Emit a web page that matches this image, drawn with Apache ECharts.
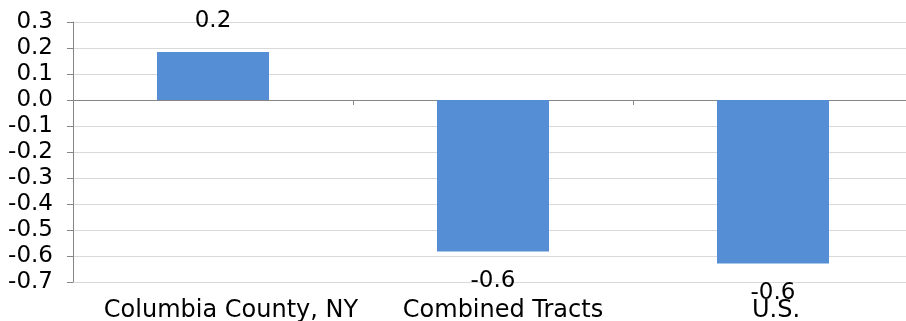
<!DOCTYPE html>
<html>
<head>
<meta charset="utf-8">
<script src="https://cdn.jsdelivr.net/npm/echarts@6/dist/echarts.min.js"></script>
<style>
  html, body { margin: 0; padding: 0; background: #fff; overflow: hidden; }
  #chart { width: 906px; height: 321px; }
</style>
</head>
<body>
<div id="chart"></div>
<script>
// Categories and change values
const categories = ['Columbia County, NY', 'Combined Tracts', 'U.S.'];
const values = [0.185, -0.583, -0.629];
const yTicks = { min: -0.7, max: 0.3, step: 0.1 };

const font = 'DejaVu Sans';
const chart = echarts.init(document.getElementById('chart'));

// per-category left padding nudges each name a little right of its band centre
const nudge = [36, 20, 6];
const rich = {};
nudge.forEach((p, i) => {
  rich['c' + i] = { color: '#000', fontFamily: font, fontSize: 24, padding: [0, 0, 0, p] };
});

chart.setOption({
  animation: false,
  // the last category band runs slightly past the right edge of the canvas
  grid: {
    left: 73, width: 840, top: 22, height: 260,
    containLabel: false, outerBoundsMode: 'none'
  },
  xAxis: [
    {
      // zero line with boundary ticks
      type: 'category',
      data: categories,
      axisLine: { onZero: true, lineStyle: { color: '#868686', width: 1 } },
      axisTick: { show: true, length: 5, lineStyle: { color: '#868686' } },
      axisLabel: { show: false },
      splitLine: { show: false }
    },
    {
      // category names along the bottom
      type: 'category',
      data: categories,
      position: 'bottom',
      axisLine: { show: false, onZero: false },
      axisTick: { show: false },
      axisLabel: {
        show: true, interval: 0, hideOverlap: false,
        color: '#000', fontFamily: font, fontSize: 24, margin: 17,
        formatter: (name, i) => '{c' + i + '|' + name + '}',
        rich: rich
      },
      splitLine: { show: false }
    }
  ],
  yAxis: {
    type: 'value',
    min: yTicks.min,
    max: yTicks.max,
    interval: yTicks.step,
    axisLine: { show: true, lineStyle: { color: '#868686', width: 1 } },
    axisTick: { show: true, length: 6, lineStyle: { color: '#868686' } },
    axisLabel: {
      color: '#000', fontFamily: font, fontSize: 23, margin: 20,
      formatter: v => (Math.round(v * 10) / 10).toFixed(1)
    },
    splitLine: { show: true, lineStyle: { color: '#d9d9d9', width: 1 } }
  },
  series: [{
    type: 'bar',
    xAxisIndex: 0,
    data: values.map(v => ({
      value: v,
      label: v >= 0 ? { position: 'top', distance: 19 } : { position: 'bottom', distance: 18 }
    })),
    barWidth: '40%',
    itemStyle: { color: '#558ed5' },
    label: {
      show: true,
      color: '#000',
      fontFamily: font,
      fontSize: 23,
      formatter: p => p.value.toFixed(1)
    }
  }]
});
</script>
</body>
</html>
